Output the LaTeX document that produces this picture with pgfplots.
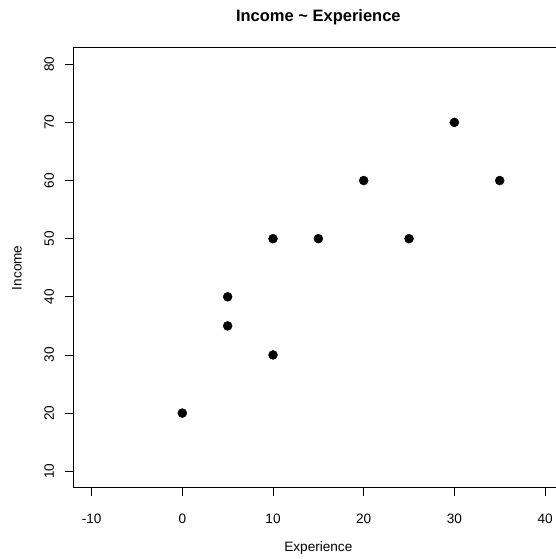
\documentclass[border=0pt]{standalone}
\usepackage{fontspec}
\setmainfont{Liberation Sans}
\usepackage{pgfplots}
\pgfplotsset{compat=1.18}

\begin{document}
\begin{tikzpicture}
\begin{axis}[
  scale only axis,
  width=489.7pt, height=439.5pt,
  xmin=-12, xmax=42, ymin=7.2, ymax=82.8,
  xtick={-10,0,10,20,30,40},
  ytick={10,20,30,40,50,60,70,80},
  xtick pos=bottom, ytick pos=left,
  tick align=outside,
  major tick length=8pt,
  every tick/.style={black, line width=0.8pt},
  axis line style={line width=1pt},
  /pgf/number format/assume math mode=true,
  tick label style={font=\fontsize{13.6}{16}\selectfont},
  xticklabel style={yshift=-15pt},
  yticklabel style={rotate=90, anchor=south, yshift=8pt},
  title={Income \textasciitilde{} Experience},
  title style={font=\fontsize{16.5}{19}\bfseries, at={(axis description cs:0.5,1)}, anchor=center, yshift=25pt},
  xlabel={Experience},
  ylabel={Income},
  label style={font=\fontsize{13.6}{16}\selectfont},
  xlabel style={at={(axis description cs:0.5,0)}, anchor=center, yshift=-60.5pt},
  ylabel style={at={(axis description cs:0,0.5)}, anchor=center, yshift=56.5pt},
]
\addplot[only marks, mark=*, mark size=4.5pt, black] coordinates {
  (0,20) (5,40) (5,35) (10,50) (10,30) (15,50) (20,60) (25,50) (30,70) (35,60)
};
\coordinate (bl) at (rel axis cs:0,0);
\end{axis}
\pgfresetboundingbox
\path[use as bounding box] (bl) ++(-73.5pt,-71.5pt) rectangle ++(556pt,559pt);
\end{tikzpicture}
\end{document}
